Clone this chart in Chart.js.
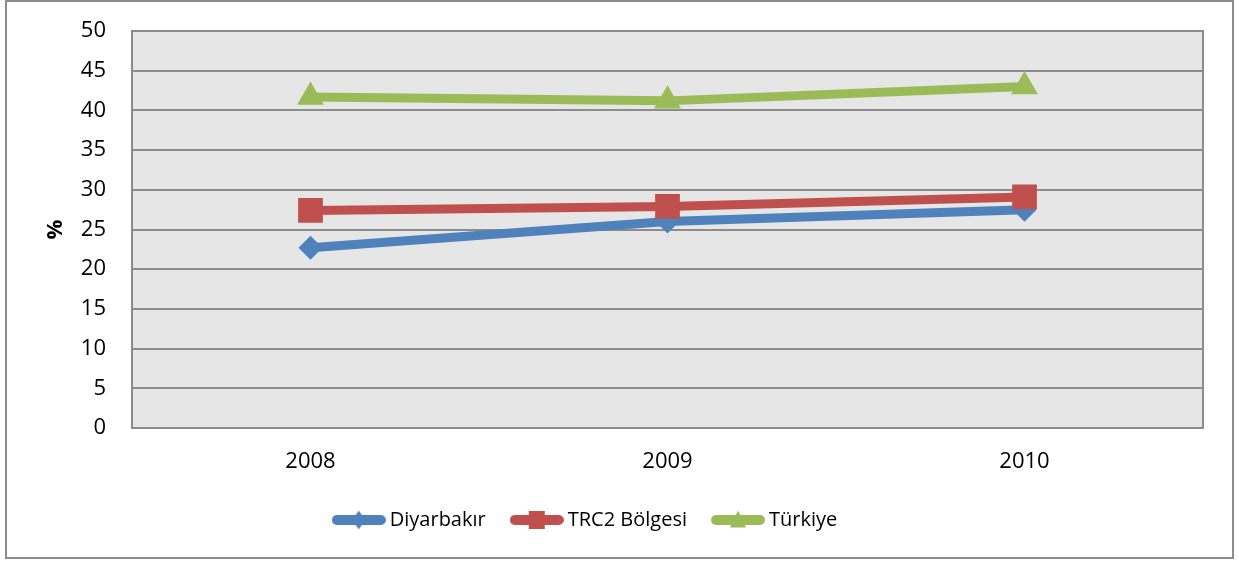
<!DOCTYPE html>
<html>
<head>
<meta charset="utf-8">
<script src="https://cdn.jsdelivr.net/npm/chart.js@4/dist/chart.umd.min.js"></script>
<style>
    html, body { margin: 0; padding: 0; background: #fff; }
    #wrap { position: relative; width: 1239px; height: 561px; }
    #frame {
        position: absolute; left: 5px; top: 0; width: 1229px; height: 559px;
        border: 2px solid #8c8c8c; box-sizing: border-box; pointer-events: none;
    }
</style>
</head>
<body>
<div id="wrap">
    <canvas id="grafica" width="1239" height="561"></canvas>
    <div id="frame"></div>
</div>
<script>
// ── DATOS ─────────────────────────────────────────────────────
const anios      = ['2008', '2009', '2010'];
const diyarbakir = [22.7, 26.0, 27.5];
const trc2       = [27.4, 27.9, 29.1];
const turkiye    = [41.7, 41.2, 43.0];
const yTicks     = [0, 5, 10, 15, 20, 25, 30, 35, 40, 45, 50];

const AZUL  = '#4F81BD';
const ROJO  = '#C0504D';
const VERDE = '#9BBB59';
const FUENTE = "'Open Sans', 'Liberation Sans', sans-serif";

// icono de leyenda: línea gruesa + marcador
function iconoLeyenda(color, forma) {
    const c = document.createElement('canvas');
    c.width = 54; c.height = 22;
    const g = c.getContext('2d');
    g.strokeStyle = color; g.fillStyle = color;
    g.lineWidth = 10; g.lineCap = 'round';
    g.beginPath(); g.moveTo(5, 11); g.lineTo(49, 11); g.stroke();
    g.beginPath();
    if (forma === 'rombo') {
        g.moveTo(27, 1.5); g.lineTo(33.5, 11); g.lineTo(27, 20.5); g.lineTo(20.5, 11);
    } else if (forma === 'cuadro') {
        g.rect(19, 2, 16, 18);
    } else {
        g.moveTo(27, 1.5); g.lineTo(35, 18.5); g.lineTo(19, 18.5);
    }
    g.closePath(); g.fill();
    return c;
}

// fondo y borde del área de trazado
const fondoPlot = {
    id: 'fondoPlot',
    afterLayout(chart) {
        // la leyenda original queda algo desplazada a la izquierda
        if (chart.legend) { chart.legend.left -= 14; chart.legend.right -= 14; }
    },
    beforeDraw(chart) {
        const a = chart.chartArea, ctx = chart.ctx;
        ctx.save();
        ctx.fillStyle = '#e6e6e6';
        ctx.fillRect(a.left, a.top, a.right - a.left, a.bottom - a.top);
        ctx.restore();
    },
    beforeDatasetsDraw(chart) {
        const a = chart.chartArea, ctx = chart.ctx;
        ctx.save();
        ctx.strokeStyle = '#8c8c8c';
        ctx.lineWidth = 2;
        ctx.strokeRect(a.left, a.top, a.right - a.left, a.bottom - a.top);
        ctx.restore();
    }
};

const series = [
    { label: 'Diyarbakır',   data: diyarbakir, color: AZUL,  punto: 'rectRot',  radio: 12,   forma: 'rombo',  orden: 3 },
    { label: 'TRC2 Bölgesi', data: trc2,       color: ROJO,  punto: 'rect',     radio: 17.5, forma: 'cuadro', orden: 2 },
    { label: 'Türkiye',      data: turkiye,    color: VERDE, punto: 'triangle', radio: 15.5, forma: 'tri',    orden: 1 }
];

new Chart(document.getElementById('grafica'), {
    type: 'line',
    data: {
        labels: anios,
        datasets: series.map(s => ({
            label: s.label,
            data: s.data,
            borderColor: s.color,
            backgroundColor: s.color,
            borderWidth: 9,
            pointStyle: s.punto,
            pointRadius: s.radio,
            pointBorderWidth: 0,
            pointBackgroundColor: s.color,
            order: s.orden,
            tension: 0
        }))
    },
    plugins: [fondoPlot],
    options: {
        responsive: false,
        animation: false,
        layout: { padding: { top: 31, right: 36, left: 0, bottom: 21 } },
        plugins: {
            tooltip: { enabled: false },
            legend: {
                position: 'bottom',
                labels: {
                    usePointStyle: true,
                    pointStyleWidth: 42,
                    padding: 30,
                    color: '#000',
                    font: { family: FUENTE, size: 20 },
                    generateLabels: chart => chart.data.datasets.map((ds, i) => ({
                        text: ds.label,
                        pointStyle: iconoLeyenda(series[i].color, series[i].forma),
                        fillStyle: series[i].color,
                        strokeStyle: series[i].color,
                        lineWidth: 0,
                        hidden: false,
                        datasetIndex: i
                    }))
                }
            }
        },
        scales: {
            x: {
                offset: true,
                grid: { display: false, drawTicks: false },
                border: { display: false },
                ticks: { color: '#000', padding: 21, font: { family: FUENTE, size: 22 } },
                afterFit: scale => { scale.height = 52; }
            },
            y: {
                min: 0,
                max: 50,
                afterBuildTicks: scale => { scale.ticks = yTicks.map(v => ({ value: v })); },
                grid: { color: '#8c8c8c', lineWidth: 2, drawTicks: false },
                border: { display: false },
                ticks: { color: '#000', padding: 26, font: { family: FUENTE, size: 22 } },
                title: {
                    display: true,
                    text: '%',
                    color: '#000',
                    font: { family: FUENTE, size: 22, weight: 'bold' },
                    padding: { top: 43, bottom: 0 }
                },
                afterFit: scale => {
                    scale.width = 132;
                    scale.paddingTop = 0;
                    scale.paddingBottom = 0;
                }
            }
        }
    }
});
</script>
</body>
</html>
